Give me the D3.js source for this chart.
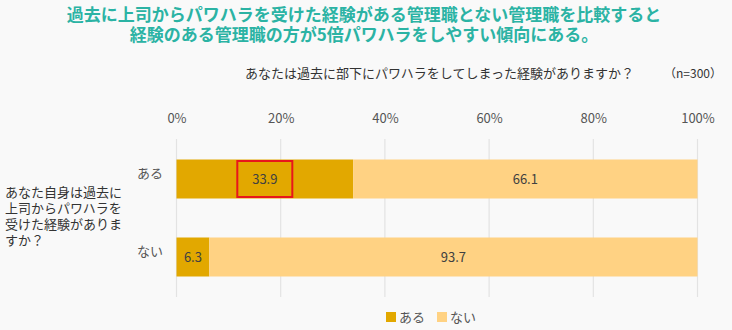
<!DOCTYPE html>
<html><head><meta charset="utf-8">
<script src="https://cdn.jsdelivr.net/npm/d3@7"></script>
<style>
html,body{margin:0;padding:0;background:#f9f9f9;}
svg{display:block;font-family:"Noto Sans CJK JP","Noto Sans",sans-serif;}
</style></head><body>
<svg id="c" width="732" height="330"></svg>
<script>
const categories = ["ある", "ない"];
const seriesNames = ["ある", "ない"];
const valuesAru = [33.9, 6.3];
const valuesNai = [66.1, 93.7];
const tickValues = [0, 20, 40, 60, 80, 100];
const titleLines = ["過去に上司からパワハラを受けた経験がある管理職とない管理職を比較すると", "経験のある管理職の方が5倍パワハラをしやすい傾向にある。"];
const questionText = "あなたは過去に部下にパワハラをしてしまった経験がありますか？";
const nText = "（n=300）";
const yTitleLines = ["あなた自身は過去に", "上司からパワハラを", "受けた経験がありま", "すか？"];
const colors = ["#e2a800", "#ffd283"];

const svg = d3.select("#c");
svg.append("rect").attr("width",732).attr("height",330).attr("fill","#f9f9f9");

const x = d3.scaleLinear().domain([0,100]).range([176.5, 697.5]);
const y = d3.scaleBand().domain(categories).range([140, 296]).paddingInner(0.5).paddingOuter(0.25);

// title (single text element, two lines)
const tt = svg.append("text").attr("text-anchor","middle").attr("font-size",17).attr("font-weight","bold").attr("fill","#2bb3a4");
tt.selectAll("tspan").data(titleLines).join("tspan")
  .attr("x", 364).attr("y", (d,i)=>21+i*20).text(d=>d);

svg.append("text").attr("x",245).attr("y",78).attr("font-size",13).attr("fill","#333").text(questionText);
svg.append("text").attr("x",722).attr("y",78).attr("text-anchor","end").attr("font-size",12).attr("fill","#333").text(nText);

// grid
svg.append("g").selectAll("line").data(tickValues).join("line")
  .attr("x1",d=>x(d)).attr("x2",d=>x(d)).attr("y1",139).attr("y2",297)
  .attr("stroke","#e3e3e3").attr("stroke-width",1.2);

// top axis labels
const ax = svg.append("g").attr("transform","translate(0,123)")
  .call(d3.axisTop(x).tickValues(tickValues).tickFormat(d=>d+"%").tickSize(0).tickPadding(0));
ax.select(".domain").remove();
ax.selectAll("text").attr("font-size",13).attr("fill","#555").attr("font-family","'Noto Sans CJK JP',sans-serif");

// category labels
const ay = svg.append("g").attr("transform","translate(163,0)")
  .call(d3.axisLeft(y).tickSize(0).tickPadding(0));
ay.select(".domain").remove();
ay.selectAll("text").attr("font-size",13).attr("fill","#555").attr("font-family","'Noto Sans CJK JP',sans-serif").attr("dy","-0.1em");

// y title (single text element, four lines)
const yt = svg.append("text").attr("font-size",13).attr("fill","#333");
yt.selectAll("tspan").data(yTitleLines).join("tspan")
  .attr("x",5).attr("y",(d,i)=>197+i*16).text(d=>d);

// stacked bars
const rows = categories.map((c,i)=>({cat:c, "ある":valuesAru[i], "ない":valuesNai[i]}));
const stack = d3.stack().keys(seriesNames)(rows);
const g = svg.append("g");
stack.forEach((s,si)=>{
  g.selectAll(null).data(s).join("rect")
    .attr("x",d=>x(d[0])).attr("width",d=>x(d[1])-x(d[0]))
    .attr("y",d=>y(d.data.cat)).attr("height",y.bandwidth())
    .attr("fill",colors[si]);
  g.selectAll(null).data(s).join("text")
    .attr("x",d=>(x(d[0])+x(d[1]))/2).attr("y",d=>y(d.data.cat)+y.bandwidth()/2)
    .attr("dy","0.36em").attr("text-anchor","middle").attr("font-size",13).attr("fill","#404040")
    .text(d=>(d[1]-d[0]).toFixed(1));
});

// highlight box around first value
const hx = (x(0)+x(valuesAru[0]))/2;
svg.append("rect").attr("x",hx-27.5).attr("y",y(categories[0])+1.5).attr("width",55).attr("height",y.bandwidth()-3)
  .attr("fill","none").attr("stroke","#e8161b").attr("stroke-width",2);

// legend
const lg = svg.append("g");
const lx = [386, 437];
seriesNames.forEach((n,i)=>{
  lg.append("rect").attr("x",lx[i]).attr("y",312).attr("width",10).attr("height",10).attr("fill",colors[i]);
  lg.append("text").attr("x",lx[i]+13).attr("y",322).attr("font-size",13).attr("fill","#555").text(n);
});
</script>
</body></html>
